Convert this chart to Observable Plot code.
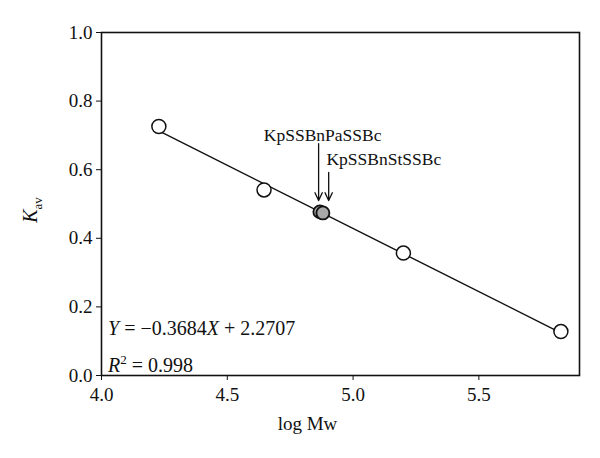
<!DOCTYPE html>
<html>
<head>
<meta charset="utf-8">
<script src="https://cdn.jsdelivr.net/npm/d3@7"></script>
<script src="https://cdn.jsdelivr.net/npm/@observablehq/plot@0.6"></script>
<style>
  html, body { margin: 0; padding: 0; background: #fff; }
  #chart { width: 600px; height: 458px; }
</style>
</head>
<body>
<div id="chart"></div>
<script>
// ---- data ----
const openX = [4.228, 4.646, 5.200, 5.826];
const openY = [0.726, 0.541, 0.357, 0.128];
const filledX = [4.868, 4.880];
const filledY = [0.477, 0.474];
const fitSlope = -0.3684;
const fitIntercept = 2.2707;
const fitRange = [4.228, 5.826];
const xTicks = [4.0, 4.5, 5.0, 5.5];
const yTicks = [0.0, 0.2, 0.4, 0.6, 0.8, 1.0];
const labelNames = ["KpSSBnPaSSBc", "KpSSBnStSSBc"];
const labelX = [4.879, 5.122];
const labelY = [0.700, 0.630];
const arrowX = [4.863, 4.903];
const arrowY1 = [0.676, 0.592];
const arrowY2 = [0.510, 0.510];
const xLabel = "log Mw";
const eqPos = [4.028, 0.134];
const r2Pos = [4.028, 0.026];
const r2Value = "0.998";

const openPts = openX.map((x, i) => ({x, y: openY[i]}));
const filledPts = filledX.map((x, i) => ({x, y: filledY[i]}));
const fitPts = fitRange.map(x => ({x, y: fitIntercept + fitSlope * x}));
const labels = labelNames.map((t, i) => ({t, x: labelX[i], y: labelY[i]}));
const arrows = arrowX.map((x, i) => ({x, y1: arrowY1[i], y2: arrowY2[i]}));

const font = "'Liberation Serif', 'DejaVu Serif', serif";
const ink = "#111";

const plot = Plot.plot({
  width: 600,
  height: 458,
  marginLeft: 101,
  marginRight: 21,
  marginTop: 32,
  marginBottom: 83,
  style: {fontFamily: font, fontSize: "19px", color: ink, background: "white"},
  x: {domain: [4, 5.9]},
  y: {domain: [0, 1]},
  marks: [
    Plot.axisX({ticks: xTicks, tickFormat: d3.format(".1f"), tickSize: 5, tickPadding: 7, label: null, fontSize: 19}),
    Plot.axisY({ticks: yTicks, tickFormat: d3.format(".1f"), tickSize: 5, tickPadding: 4, label: null, fontSize: 19}),
    Plot.frame({stroke: ink, strokeWidth: 1.6}),
    Plot.line(fitPts, {x: "x", y: "y", stroke: ink, strokeWidth: 1.4}),
    Plot.arrow(arrows, {x1: "x", x2: "x", y1: "y1", y2: "y2", stroke: ink, strokeWidth: 1.3, headLength: 10, headAngle: 50}),
    Plot.dot(openPts, {x: "x", y: "y", r: 7, stroke: ink, fill: "white", strokeWidth: 1.5}),
    Plot.dot(filledPts, {x: "x", y: "y", r: 6.5, stroke: ink, fill: "#a8a8a8", strokeWidth: 1.8}),
    Plot.text(labels, {x: "x", y: "y", text: "t", fontSize: 17.5, fill: ink}),
    Plot.text([xLabel], {frameAnchor: "bottom", dx: -33, dy: 54, fontSize: 19, fill: ink})
  ]
});

document.getElementById("chart").appendChild(plot);

// rich-text labels (italics, sub/superscripts)
const sx = plot.scale("x"), sy = plot.scale("y");
const svg = d3.select(plot);

const yl = svg.append("text")
  .attr("transform", "translate(37,210) rotate(-90)")
  .attr("text-anchor", "middle")
  .attr("font-family", font)
  .attr("font-size", 20)
  .attr("fill", ink);
yl.append("tspan").attr("font-style", "italic").text("K");
yl.append("tspan").attr("font-size", 13).attr("dy", 5).text("av");

const eq = svg.append("text")
  .attr("x", sx.apply(eqPos[0]))
  .attr("y", sy.apply(eqPos[1]) + 6)
  .attr("text-anchor", "start")
  .attr("font-family", font)
  .attr("font-size", 20)
  .attr("fill", ink);
eq.append("tspan").attr("font-style", "italic").text("Y");
eq.append("tspan").text(" = \u22120.3684");
eq.append("tspan").attr("font-style", "italic").text("X");
eq.append("tspan").text(" + 2.2707");

const r2 = svg.append("text")
  .attr("x", sx.apply(r2Pos[0]))
  .attr("y", sy.apply(r2Pos[1]) + 6)
  .attr("text-anchor", "start")
  .attr("font-family", font)
  .attr("font-size", 20)
  .attr("fill", ink);
r2.append("tspan").attr("font-style", "italic").text("R");
r2.append("tspan").attr("font-size", 13).attr("dy", -8).text("2");
r2.append("tspan").attr("dy", 8).text(" = " + r2Value);
</script>
</body>
</html>
